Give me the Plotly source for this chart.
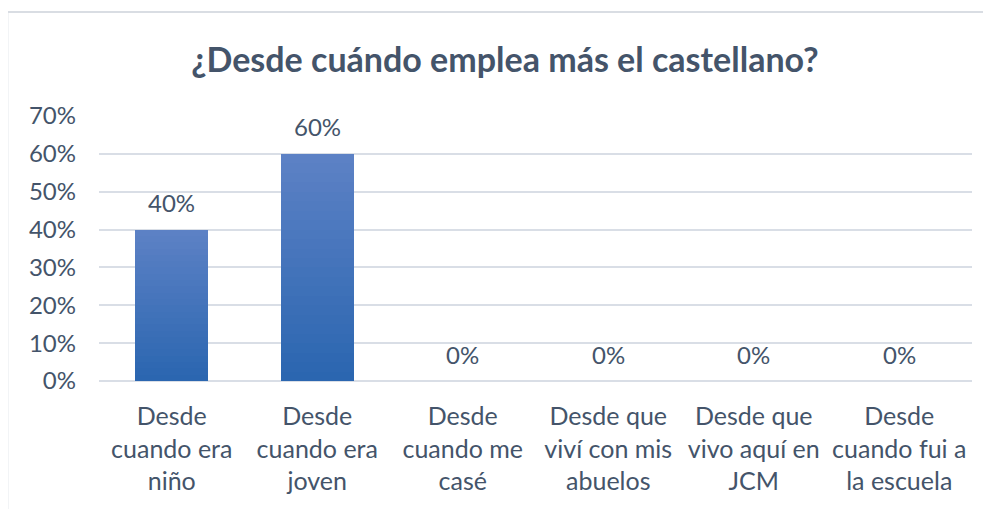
import plotly.graph_objects as go

categories = [
    "Desde<br>cuando era<br>niño",
    "Desde<br>cuando era<br>joven",
    "Desde<br>cuando me<br>casé",
    "Desde que<br>viví con mis<br>abuelos",
    "Desde que<br>vivo aquí en<br>JCM",
    "Desde<br>cuando fui a<br>la escuela",
]
values = [0.40, 0.60, 0.0, 0.0, 0.0, 0.0]
y_ticks = [0, 0.1, 0.2, 0.3, 0.4, 0.5, 0.6, 0.7]
y_tick_labels = ["0%", "10%", "20%", "30%", "40%", "50%", "60%", "70%"]
title_text = "¿Desde cuándo emplea más el castellano?"

FONT = "Lato"
TXT = "#44546a"

# gradient from bottom (dark) to top (light)
bottom_rgb = (43, 102, 176)
top_rgb = (92, 129, 197)
N = 24

fig = go.Figure()
for k in range(N):
    t = k / (N - 1)
    r = round(bottom_rgb[0] + (top_rgb[0] - bottom_rgb[0]) * t)
    g = round(bottom_rgb[1] + (top_rgb[1] - bottom_rgb[1]) * t)
    b = round(bottom_rgb[2] + (top_rgb[2] - bottom_rgb[2]) * t)
    fig.add_trace(go.Bar(
        x=categories,
        y=[v / N for v in values],
        marker=dict(color=f"rgb({r},{g},{b})", line=dict(width=0)),
        showlegend=False,
        hoverinfo="skip",
    ))

for c, v in zip(categories, values):
    fig.add_annotation(
        x=c, y=v, text=f"{round(v*100)}%", showarrow=False,
        yshift=27, yanchor="middle",
        font=dict(family=FONT, size=24, color=TXT),
    )

fig.add_shape(
    type="rect", xref="paper", yref="paper",
    x0=-0.105, x1=1.2, y0=-0.8, y1=1.392,
    line=dict(color="#d9dde3", width=2), layer="below",
)

# page body has an 8px margin: compensate
fig.update_layout(
    barmode="stack",
    bargap=0.5,
    width=991, height=509,
    margin=dict(l=91, r=27, t=108, b=136),
    paper_bgcolor="white",
    plot_bgcolor="white",
    title=dict(
        text=f"<b>{title_text}</b>",
        x=0.5015, xref="container", xanchor="center",
        y=1 - 52 / 509, yanchor="middle",
        font=dict(family=FONT, size=34, color=TXT),
    ),
    font=dict(family=FONT, color=TXT),
)
fig.update_xaxes(
    showgrid=False, showline=False, ticks="",
    tickfont=dict(family=FONT, size=25, color=TXT),
    ticklabelstandoff=18,
    fixedrange=True,
)
fig.update_yaxes(
    range=[0, 0.7],
    tickvals=y_ticks, ticktext=y_tick_labels,
    showgrid=True, gridcolor="#d9dee6", gridwidth=2,
    zeroline=True, zerolinecolor="#d9dee6", zerolinewidth=2,
    showline=False, ticks="",
    tickfont=dict(family=FONT, size=24, color=TXT),
    ticklabelstandoff=22,
    fixedrange=True,
)

fig.write_html("out.html")
